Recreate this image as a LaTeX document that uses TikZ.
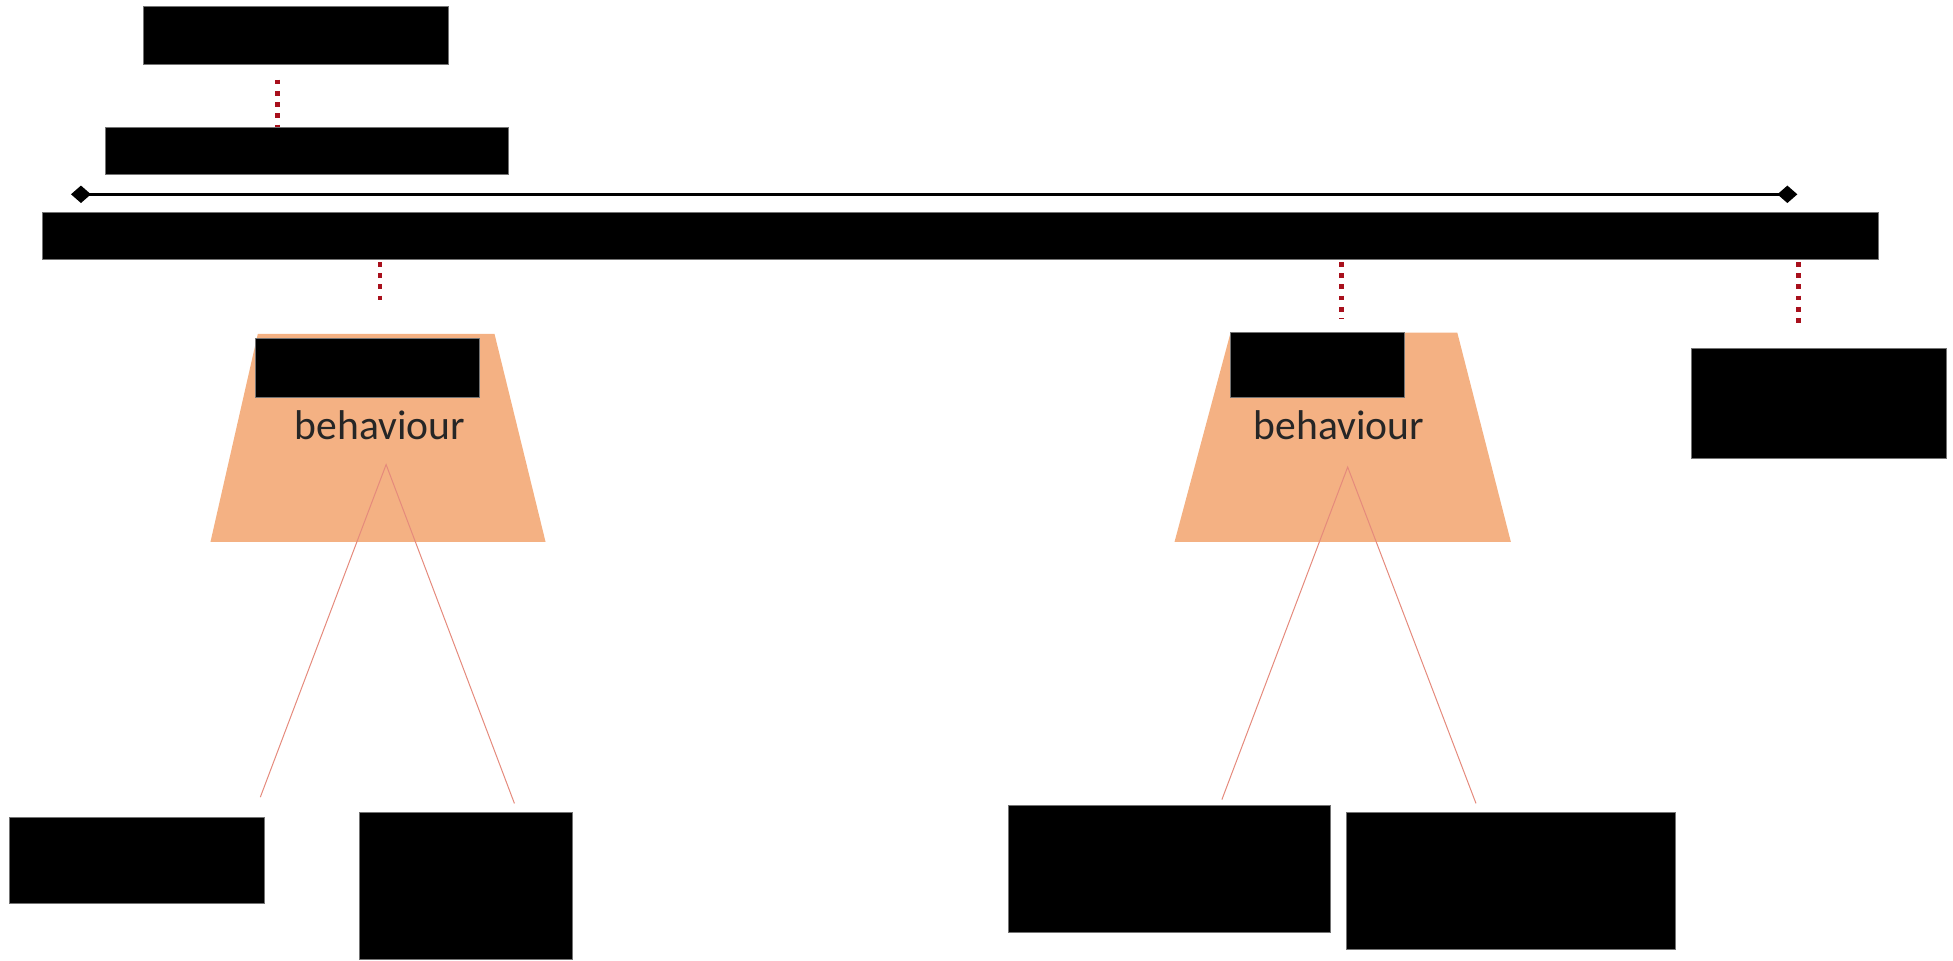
\documentclass[tikz,border=0pt]{standalone}
\usepackage{fontspec}
\setmainfont{Carlito}
\usetikzlibrary{fit,arrows.meta}
\definecolor{peach}{HTML}{F4B183}
\definecolor{dotred}{HTML}{A8101C}
\definecolor{thinred}{HTML}{E58A7C}
\definecolor{textgray}{HTML}{262626}
\begin{document}
\begin{tikzpicture}[x=0.5pt,y=-0.5pt,
  blk/.style={fill=black, draw=black!55, line width=0.4pt, inner sep=0pt},
  reddot/.style={draw=dotred, line width=1.9pt, dash pattern=on 1.9pt off 2.6pt},
  thinline/.style={draw=thinred, line width=0.4pt},
  trap/.style={fill=peach, draw=none},
  lbl/.style={font=\fontsize{16.7}{20}\selectfont, text=textgray, inner sep=0pt}]
\useasboundingbox (0,0) rectangle (1568,771);

% top boxes and bar
\node[blk, fit={(115,5)(360,52)}] (t1) {};
\node[blk, fit={(85,102)(408,140)}] (t2) {};
\node[blk, fit={(34,171)(1508,208)}] (bar) {};

\coordinate (d1) at (223,64);
\draw[reddot] (d1) -- (t2.north -| d1);

% arrow line with diamonds
\coordinate (al) at (57,156);
\coordinate (ar) at (1443,156);
\draw[line width=1.3pt, {Diamond[length=8pt,width=7pt]}-{Diamond[length=8pt,width=7pt]}] (al) -- (ar);

% trapezoids
\coordinate (L1) at (169,435); \coordinate (L2) at (207,268);
\coordinate (L3) at (397,268); \coordinate (L4) at (438,435);
\fill[trap] (L1) -- (L2) -- (L3) -- (L4) -- cycle;
\coordinate (R1) at (943,435); \coordinate (R2) at (988,267);
\coordinate (R3) at (1170,267); \coordinate (R4) at (1213,435);
\fill[trap] (R1) -- (R2) -- (R3) -- (R4) -- cycle;

\node[blk, fit={(205,272)(385,319)}] (lt) {};
\node[blk, fit={(988,267)(1128,319)}] (rt) {};
\node[lbl] (lb) at (305,341) {behaviour};
\node[lbl] (rb) at (1075,341) {behaviour};

% right box
\node[blk, fit={(1358,280)(1563,368)}] (rbox) {};

% dotted connectors below bar
\coordinate (d2) at (305,245);
\coordinate (d3) at (1077,256);
\coordinate (d4) at (1444,262);
\draw[reddot] (bar.south -| d2) ++(0,2) -- (d2);
\draw[reddot] (bar.south -| d3) ++(0,2) -- (d3);
\draw[reddot] (bar.south -| d4) ++(0,2) -- (d4);

% bottom boxes
\node[blk, fit={(8,656)(212,725)}] (b1) {};
\node[blk, fit={(289,652)(460,770)}] (b2) {};
\node[blk, fit={(810,647)(1068,749)}] (b3) {};
\node[blk, fit={(1081,652)(1345,762)}] (b4) {};

% thin lines
\coordinate (ap1) at (310,373);
\coordinate (ap2) at (1082,375);
\coordinate (e1) at (209,640);
\coordinate (e2) at (413,645);
\coordinate (e3) at (981,642);
\coordinate (e4) at (1185,645);
\draw[thinline] (e1) -- (ap1) -- (e2);
\draw[thinline] (e3) -- (ap2) -- (e4);
\end{tikzpicture}
\end{document}
